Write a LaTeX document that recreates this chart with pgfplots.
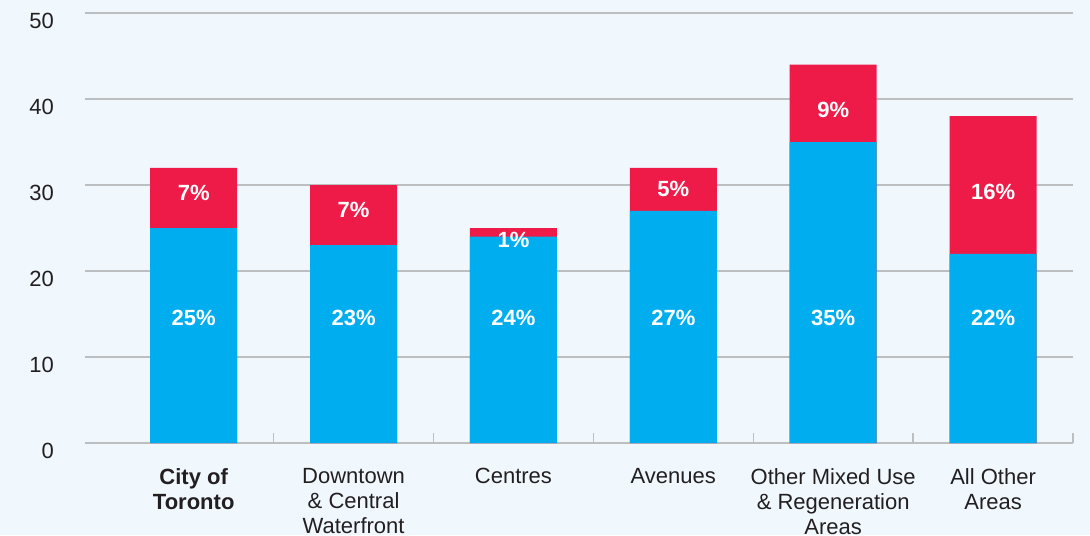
\documentclass[border=0pt]{standalone}
\usepackage{fontspec}
\setmainfont{Liberation Sans}
\usepackage{pgfplots}
\pgfplotsset{compat=1.18}
\usetikzlibrary{backgrounds}

\definecolor{barblue}{HTML}{00AEEF}
\definecolor{barred}{HTML}{EE1A47}
\definecolor{bgc}{HTML}{F0F8FE}
\definecolor{gridc}{HTML}{BCBEC0}
\definecolor{txt}{HTML}{231F20}

\begin{document}
\begin{tikzpicture}
\begin{axis}[
  name=ax,
  scale only axis,
  width=494pt, height=215pt,
  xmin=-0.68, xmax=5.5,
  ymin=0, ymax=50,
  ytick={0,10,20,30,40,50},
  xtick={0,1,2,3,4,5},
  xticklabels={{\textbf{City of}\\\textbf{Toronto}},
               {Downtown\\\& Central\\Waterfront},
               {Centres},
               {Avenues},
               {Other Mixed Use\\\& Regeneration\\Areas},
               {All Other\\Areas}},
  minor xtick={0.5,1.5,2.5,3.5,4.5,5.5},
  major tick length=0pt,
  minor tick length=5pt,
  tick align=inside,
  ytick style={draw=none},
  minor tick style={gridc, line width=0.7pt},
  axis x line*=bottom, axis y line*=left,
  x axis line style={gridc, line width=1.4pt},
  y axis line style={draw=none},
  ymajorgrids,
  grid style={gridc, line width=1.3pt},
  /pgf/number format/assume math mode=true,
  yticklabel style={font=\fontsize{11}{12}\selectfont, text=txt, xshift=-12pt, yshift=-4pt},
  xticklabel style={font=\fontsize{11}{12.5}\selectfont, text=txt, align=center, yshift=-9pt},
  clip=false,
]
% total height (red) drawn first, blue part over it
\addplot[ybar, bar shift=0pt, bar width=43.5pt, fill=barred, draw=none]
  coordinates {(0,32)(1,30)(2,25)(3,32)(4,44)(5,38)};
\addplot[ybar, bar shift=0pt, bar width=43.5pt, fill=barblue, draw=none]
  coordinates {(0,25)(1,23)(2,24)(3,27)(4,35)(5,22)};
% labels
\addplot[draw=none, mark=none, nodes near coords, point meta=explicit symbolic,
  nodes near coords style={anchor=center, text=white, font=\fontsize{11}{12}\selectfont\bfseries}]
  coordinates {(0,14.55)[25\%] (1,14.55)[23\%] (2,14.55)[24\%] (3,14.55)[27\%] (4,14.55)[35\%] (5,14.55)[22\%]};
\addplot[draw=none, mark=none, nodes near coords, point meta=explicit symbolic,
  nodes near coords style={anchor=center, text=white, font=\fontsize{11}{12}\selectfont\bfseries}]
  coordinates {(0,29.1)[7\%] (1,27.15)[7\%] (2,23.6)[1\%] (3,29.55)[5\%] (4,38.76)[9\%] (5,29.2)[16\%]};
\end{axis}
\begin{scope}[on background layer]
\fill[bgc] ([xshift=-42.5pt,yshift=221.5pt]ax.south west) rectangle ([xshift=502.5pt,yshift=-46pt]ax.south west);
\end{scope}
\pgfresetboundingbox
\path ([xshift=-42.5pt,yshift=221.5pt]ax.south west) rectangle ([xshift=502.5pt,yshift=-46pt]ax.south west);
\end{tikzpicture}
\end{document}
